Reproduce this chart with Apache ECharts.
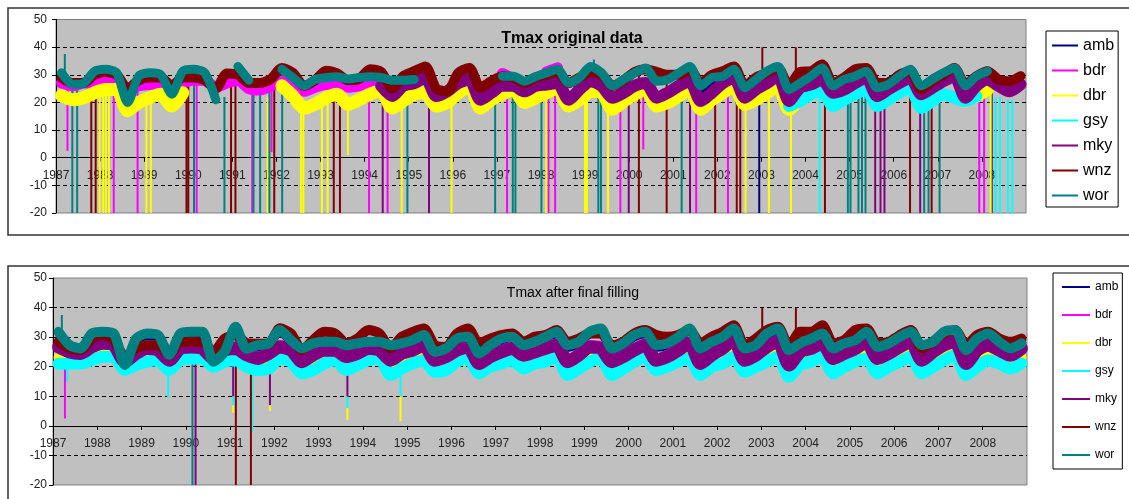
<!DOCTYPE html>
<html>
<head>
<meta charset="utf-8">
<title>Tmax</title>
<script src="https://cdn.jsdelivr.net/npm/echarts@6/dist/echarts.min.js"></script>
<style>
  html, body { margin: 0; padding: 0; background: #fff; }
  #chart { width: 1129px; height: 499px; }
</style>
</head>
<body>
<div id="chart"></div>
<script>
// quarterly values (Feb, May, Aug, Nov) 1987..2008
var firstYear = 1987
var lastYear = 2009
var stations = ['amb', 'bdr', 'dbr', 'gsy', 'mky', 'wnz', 'wor']
var colors = ['#000080', '#FF00FF', '#FFFF00', '#00FFFF', '#800080', '#800000', '#008080']
var yTicks = [-20, -10, 0, 10, 20, 30, 40, 50]

// ---- original data (upper panel) ----
var origAmb = [
  null, null, null, null, null, null, null, null, null, null, null, null,
  null, null, null, null, null, null, null, null, null, null, null, null,
  null, null, null, null, null, null, null, null, null, null, null, null,
  null, null, null, null, null, null, null, null, null, null, null, null,
  null, null, null, null, null, null, null, null, null, null, 24, 27.5,
  30.5, 32, 24, 26.5, 29, 32, 25.5, 27.5, 29, 31, 25, 26,
  29, 31.5, 25.5, 28, 30, 32, 25.5, 29, 31, null, null, null
]
var origBdr = [
  27, 26, 27, 27, 27.5, 27.5, 25, 26, 26.5, 27, 25, 27,
  28, 28, 25.5, 27, 28, 25, 24.5, 26, 27.5, 26.5, 24, 25.5,
  26.5, 26.5, 25.5, 26, 27, 26, null, null, null, null, null, null,
  null, null, null, null, 30.5, 28.5, null, null, 31, 32.5, null, null,
  null, null, null, null, null, null, null, null, null, null, null, null,
  null, null, null, null, null, null, null, null, null, null, null, null,
  null, null, null, null, null, null, null, null, null, null, null, null
]
var origDbr = [
  22.5, 21, 21.7, 23.5, 24.7, 24.7, 17, 20, 21.7, 23, 18.7, 23.5,
  null, null, null, null, null, null, null, null, 26, 22.3, 18, 19.3,
  21.7, 23, 19.3, 21, 23, 24, 18, 20.5, 23, 23.5, 18.7, 20,
  23.5, 26, 18, 21, 23, 24.7, 20, 21.7, 23.5, 25.3, 18.7, 21,
  24, 23.5, 17.5, 20.5, 23, 24.7, 18.7, 20, 22.3, 24.7, 17.5, 21,
  23.5, 26, 19.3, 21, 23.5, 26, 17.5, 21.7, 23.5, 25.3, null, null,
  null, null, null, null, null, null, null, null, null, null, 20.5, 22.3,
  24.7, null, null, null
]
var origGsy = [
  null, null, null, null, null, null, null, null, null, null, null, null,
  null, null, null, null, null, null, null, null, null, null, null, null,
  null, null, null, null, null, null, null, null, null, null, null, null,
  null, null, null, null, null, null, null, null, null, null, null, null,
  null, null, null, null, null, null, null, null, null, null, null, null,
  null, null, null, null, null, null, 18.7, 20.5, 23, 24, 18.7, 21,
  23, 24.7, 18.7, 21, 23.5, 25.3, 18, 20.5, 23, 21.7, 20.5, 22.3
]
var origMky = [
  null, null, null, null, null, null, null, null, null, null, null, null,
  null, null, null, null, null, null, null, null, null, null, null, null,
  null, null, null, null, null, 26, 22.3, 26, 27, 29, 22.3, 24,
  27, 28.3, 21, 23.5, 26, 26, 24, 26, 26.5, 27, 21, 24.7,
  27.7, 26, 21.7, 23.5, 26, 27, 21.7, 23.5, 26, 27.7, 20.5, 23.5,
  27, 29, 21.7, 24.7, 27, 29.5, 20.5, 25.3, 26.5, 28.3, 23.5, 24.7,
  27, 29, 22.3, 24.7, 27, 29, 23, 25.3, 27.7, 29.5, 21.7, 26,
  28.3, 26, 24, 26.5
]
var origWnz = [
  29, 27, 27, 30, 31, 30, 25, 28, 29, 29, 26, 29,
  29, 28, 25, 30.5, 30, 27, 27, 28.5, 32.5, 30.7, 26, 28,
  31.5, 30.5, 28, 28.5, 32, 31, 25, 29.5, 31.3, 33, 25, 24,
  30.7, 32.5, 25.3, 27.7, 29.5, 29, 27, 29, 30, 31, 27, 29,
  31, 30, 26, 28, 31, 32, 31, 30, 30, 32, 27, 30,
  31.3, 33, 26, 29, 30.7, 32.5, 26, 31, 31.3, 33.7, 27, 29,
  32, 32.5, 27, 27, 30, 31.3, 24.7, 27.7, 30, 32.5, 26.5, 29.5,
  31.3, 28.3, 27.7, 29.5
]
var origWor = [
  30.7, 26.5, 26.9, 31.3, 32, 30.7, 20, 29.5, 30.7, 30, 23, 31.3,
  32, 30.7, 21, null, 33, 28, null, null, 32, 29, 26, 28.3,
  29, 29.3, 28.5, 29, 29.3, 29, 28, 28, 28.3, null, null, null,
  null, null, null, null, 29.5, 29.5, 27.7, 29.3, 30.7, 32, 27, 29,
  33, 30.7, 26, 28.3, 30.7, 32.5, 27.7, 28.3, 30.7, 33, 26, 29,
  29.5, 32, 25.3, 28.3, 31.3, 33, 24.7, 27, 29.5, 32.5, 26, 28.3,
  29.5, 31.3, 25.3, 26.5, 29.5, 32, 26, 28.3, 30.7, 32.5, 26, 29.5,
  31.3, null, null, null
]

// single-day drop-outs and peaks: [year, from, to]
var origSpikesAmb = [[2002.95, 28, -20], [2008.22, 31, -20]]
var origSpikesBdr = [
  [1987.26, 26, 2.5], [1988.31, 27, -20], [1988.85, 26, -20], [1990.19, 28, -20],
  [1991.45, 25, -20], [1991.89, 26, 2], [1994.1, 27, -20], [1994.52, 25, -20],
  [1997.23, 28, -20], [1998.17, 31, -20], [1998.32, 30, -20], [1999.8, 27, -20],
  [2000.32, 28, 3], [2001.52, 26, -20], [2002.24, 28, -20], [2007.94, 27, -20],
  [2008.05, 27, -20]
]
var origSpikesDbr = [
  [1987.99, 24, -20], [1988.07, 24, -20], [1988.13, 24, -20], [1988.2, 24, -20],
  [1989.05, 22, -20], [1989.15, 22, -20], [1991.8, 22, -20], [1992.56, 18, -20],
  [1992.61, 18, -20], [1993.03, 22, -20], [1993.16, 22, -20], [1993.62, 20, 1],
  [1994.84, 20, -20], [1995.97, 23, -20], [1998.12, 25, -20], [1999.0, 23, -20],
  [1999.04, 23, -20], [1999.52, 19, -20], [2002.64, 20, -20], [2003.17, 25, -20],
  [2003.67, 20, -20], [2008.2, 24, -20]
]
var origSpikesGsy = [
  [2004.32, 22, -20], [2008.31, 22, -20], [2008.41, 22, -20], [2008.59, 21, -20],
  [2008.69, 21, -20]
]
var origSpikesMky = [
  [1994.41, 25, -20], [1995.46, 27, -20], [1999.99, 25, -20], [2001.38, 26, -20],
  [2005.58, 26, -20], [2005.7, 26, -20], [2005.79, 26, -20], [2006.6, 24, -20]
]
var origSpikesWnz = [
  [1987.8, 29, -20], [1987.9, 29, -20], [1989.96, 29, -20], [1990.0, 29, -20],
  [1990.97, 30, -20], [1991.07, 30, -20], [1991.95, 28, -20], [1993.3, 31, -20],
  [1993.44, 30, -20], [2000.22, 31, -20], [2000.85, 30, -20], [2001.95, 29, -20],
  [2002.44, 30, -20], [2002.52, 30, -20], [2003.02, 32, 40], [2003.78, 31, 40],
  [2004.44, 28, -20], [2006.37, 26, -20], [2006.86, 27, -20]
]
var origSpikesWor = [
  [1987.2, 30, 37.5], [1987.37, 27, -20], [1987.48, 27, -20], [1990.13, 30, -20],
  [1990.82, 22, -20], [1991.48, 26, -20], [1991.63, 26, -20], [1991.84, 26, -20],
  [1992.13, 30, -20], [1994.97, 28, -20], [1996.96, 29, -20], [1997.36, 28, -20],
  [1997.42, 28, -20], [1998.01, 30, -20], [1999.2, 33, 35.5], [1999.3, 30, -20],
  [1999.36, 30, -20], [2001.19, 31, -20], [2004.96, 29, -20], [2005.02, 29, -20],
  [2005.2, 30, -20], [2005.28, 30, -20], [2005.36, 30, -20], [2006.69, 27, -20],
  [2006.79, 27, -20], [2007.04, 30, -20]
]

// ---- after final filling (lower panel) ----
var fillAmb = [
  30.6, 26.1, 25, 30, 30.6, 30, 19.4, 28.3, 30, 29.5, 22.8, 30,
  30.6, 30.6, 20.5, 23.8, 32.3, 24.8, 26.1, 26.7, 31.2, 27.8, 25, 26.7,
  27.2, 27.2, 26.1, 26.7, 27.2, 27.2, 26.1, 26.7, 27.8, 29.5, 23.8, 25,
  28.3, 28.9, 23.3, 26.1, 28.3, 28.9, 26.1, 27.2, 28.9, 30.6, 26.1, 27.2,
  30.6, 31.7, 25, 26.7, 29.5, 30.6, 26.1, 26.7, 28.9, 31.7, 25, 27.2,
  28.9, 31.7, 25, 26.1, 30, 31.7, 24.4, 26.7, 28.3, 30, 25, 26.7,
  27.8, 30.6, 25.5, 26.7, 28.9, 30.6, 26.1, 27.2, 30.6, 31.2, 24.4, 28.3,
  30, 27.2, 25, 26.7
]
var fillBdr = [
  27.5, 26, 25.3, 27.5, 28.7, 28.1, 22.5, 25.3, 27, 26.4, 23, 27,
  27.5, 27, 23.6, 26.4, 27, 24.8, 23.6, 25.3, 27.5, 26.4, 22.5, 24.8,
  26.4, 26.4, 24.2, 25.3, 27, 26.4, 23, 25.3, 26.4, 28.1, 23, 24.2,
  26.4, 27.5, 21.9, 24.2, 25.8, 27, 24.7, 25.8, 27, 28.1, 22.5, 24.7,
  27.5, 27, 22.5, 24.2, 26.4, 28.1, 23, 24.2, 26.4, 28.7, 21.9, 24.7,
  27, 29.8, 23, 24.7, 27.5, 29.2, 21.4, 25.8, 27, 28.7, 23.6, 25.3,
  27, 29.2, 23.6, 25.3, 27.5, 29.2, 23, 25.8, 28.1, 29.2, 21.9, 26.4,
  28.1, 26.4, 24.7, 27
]
var fillDbr = [
  23, 23, 23, 24, 25.2, 25.4, 20.8, 22.5, 23.6, 24, 20.8, 24,
  24.6, 24.7, 21.8, 23.5, 24, 21.8, 20.8, 21.3, 24.6, 23.5, 19.6, 20.8,
  23, 24, 20.8, 22.4, 24, 24.6, 19, 21.3, 23, 24, 20.1, 20.8,
  23.5, 24.7, 19.6, 21.8, 23, 24, 21.3, 23, 23.5, 25.2, 19, 21.3,
  23.5, 24.6, 19, 21.3, 23.5, 25.2, 20.8, 21.8, 23.5, 24.6, 19, 21.8,
  23, 25.2, 20.1, 21.8, 23.5, 25.2, 18.5, 22.4, 23.5, 25.2, 19.6, 21.8,
  23.5, 24.6, 19.6, 21.8, 23.5, 25.2, 19.6, 21.8, 24, 25.7, 19, 21.8,
  24, 23, 21.3, 23
]
var fillGsy = [
  21, 21.1, 21.1, 22.2, 23.4, 23.4, 18.9, 20.6, 21.7, 22.2, 18.9, 22.2,
  22.8, 22.8, 20, 21.7, 22.2, 20, 18.9, 19.4, 22.8, 21.7, 17.8, 18.9,
  21.1, 22.2, 18.9, 20.6, 22.2, 22.8, 17.2, 19.4, 21.1, 22.2, 18.3, 18.9,
  21.7, 22.8, 17.8, 20, 21.1, 22.2, 19.4, 21.1, 21.7, 23.4, 17.2, 19.4,
  21.7, 22.8, 17.2, 19.4, 21.7, 23.4, 18.9, 20, 21.7, 22.8, 17.2, 20,
  21.1, 23.4, 18.3, 20, 21.7, 23.4, 16.6, 20.6, 21.7, 23.4, 17.8, 20,
  21.7, 22.8, 17.8, 20, 21.7, 23.4, 17.8, 20, 22.2, 23.9, 17.2, 20,
  22.2, 21.1, 19.4, 21.1
]
var fillMky = [
  26.7, 25, 24.5, 26.7, 27.9, 27.3, 21.7, 24.5, 26.2, 25.6, 22.2, 26.2,
  26.7, 26.2, 22.8, 25.6, 26.2, 24, 22.8, 24.5, 26.7, 25.6, 21.7, 24,
  25.6, 25.6, 23.4, 24.5, 26.2, 25.6, 22.2, 24.5, 25.6, 27.3, 22.2, 23.4,
  25.6, 26.7, 21.1, 23.4, 25, 26.2, 23.9, 25, 26.2, 27.3, 21.7, 23.9,
  26.7, 26.2, 21.7, 23.4, 25.6, 27.3, 22.2, 23.4, 25.6, 27.9, 21.1, 23.9,
  26.2, 29, 22.2, 23.9, 26.7, 28.4, 20.6, 25, 26.2, 27.9, 22.8, 24.5,
  26.2, 28.4, 22.8, 24.5, 26.7, 28.4, 22.2, 25, 27.3, 28.4, 21.1, 25.6,
  27.3, 25.6, 23.9, 26.2
]
var fillWnz = [
  28.4, 26.2, 25.6, 29.5, 30.7, 29, 23.4, 26.2, 27.3, 27.3, 24, 28.4,
  28.4, 28.4, 25, 29.5, 30.7, 28, 27.8, 27.8, 33, 31.2, 25.6, 29,
  31.8, 31.2, 27.9, 29.5, 32.4, 31.2, 26.2, 30.1, 31.8, 32.9, 27.3, 26.7,
  31.2, 32.9, 27.9, 29.5, 30.7, 31.2, 28.4, 30.1, 30.7, 32.4, 28.4, 29.5,
  31.2, 31.2, 27.3, 28.4, 31.2, 32.4, 30.7, 30.1, 30.7, 32.4, 27.9, 30.1,
  31.8, 34, 27.3, 29.5, 32.4, 33.5, 26.7, 31.8, 31.8, 34, 27.9, 29,
  32.4, 32.9, 27.9, 28.4, 30.7, 32.4, 26.2, 28.4, 31.2, 32.4, 27.3, 30.7,
  31.8, 29.5, 28.4, 29.5
]
var fillWor = [
  31.8, 27.3, 26.2, 31.2, 31.8, 31.2, 20.6, 29.5, 31.2, 30.7, 24, 31.2,
  31.8, 31.8, 21.7, 25, 33.5, 26, 27.3, 27.9, 32.4, 29, 26.2, 27.9,
  28.4, 28.4, 27.3, 27.9, 28.4, 28.4, 27.3, 27.9, 29, 30.7, 25, 26.2,
  29.5, 30.1, 24.5, 27.3, 29.5, 30.1, 27.3, 28.4, 30.1, 31.8, 27.3, 28.4,
  31.8, 32.9, 26.2, 27.9, 30.7, 31.8, 27.3, 27.9, 30.1, 32.9, 26.2, 28.4,
  30.1, 32.9, 26.2, 27.3, 31.2, 32.9, 25.6, 27.9, 29.5, 31.2, 26.2, 27.9,
  29, 31.8, 26.7, 27.9, 30.1, 31.8, 27.3, 28.4, 31.8, 32.4, 25.6, 29.5,
  31.2, 28.4, 26.2, 27.9
]

var fillSpikesAmb = []
var fillSpikesBdr = [[1987.27, 27, 2.5]]
var fillSpikesDbr = [[1991.07, 7, 4.5], [1991.9, 7, 5], [1993.65, 6, 2], [1994.85, 10, 1.5]]
var fillSpikesGsy = [
  [1987.32, 21, 15], [1989.6, 21, 9.5], [1991.07, 20, 7], [1991.5, 20, -2],
  [1993.65, 10, 6], [1994.85, 19, 10]
]
var fillSpikesMky = [[1990.22, 26, -20], [1991.07, 25, 10], [1991.9, 24, 7], [1993.65, 24, 10]]
var fillSpikesWnz = [[1991.13, 29, -20], [1991.47, 27.8, -20], [2003.02, 33, 40], [2003.78, 32, 40]]
var fillSpikesWor = [[1987.2, 31, 37.5], [1990.15, 30, -20]]

var origLines = [origAmb, origBdr, origDbr, origGsy, origMky, origWnz, origWor]
var origSpikes = [origSpikesAmb, origSpikesBdr, origSpikesDbr, origSpikesGsy, origSpikesMky, origSpikesWnz, origSpikesWor]
var fillLines = [fillAmb, fillBdr, fillDbr, fillGsy, fillMky, fillWnz, fillWor]
var fillSpikes = [fillSpikesAmb, fillSpikesBdr, fillSpikesDbr, fillSpikesGsy, fillSpikesMky, fillSpikesWnz, fillSpikesWor]

// band widths in px for each station (amb..wor)
var origWidths = [6, 11, 13, 12, 12, 10, 9]
var fillWidths = [6, 9, 10, 12, 13, 10, 10]

var font = 'Arial, "Liberation Sans", sans-serif'

function quarterTime(i) {
  return firstYear + (i + 0.5) / 4
}

function panelSeries(panel, lines, spikes, widths) {
  var out = []
  for (var s = 0; s < stations.length; s++) {
    var vals = lines[s]
    out.push({
      name: stations[s],
      type: 'line',
      xAxisIndex: panel,
      yAxisIndex: panel,
      data: vals.map(function (v, i) { return [quarterTime(i), v] }),
      showSymbol: false,
      smooth: 0.25,
      connectNulls: false,
      color: colors[s],
      lineStyle: { width: widths[s], color: colors[s], join: 'round', cap: 'round' },
      emphasis: { disabled: true },
      silent: true
    })
    out.push({
      name: stations[s],
      type: 'custom',
      xAxisIndex: panel,
      yAxisIndex: panel,
      data: spikes[s],
      color: colors[s],
      clip: true,
      silent: true,
      encode: { x: 0, y: [1, 2] },
      renderItem: (function (c) {
        return function (params, api) {
          var p1 = api.coord([api.value(0), api.value(1)])
          var p2 = api.coord([api.value(0), api.value(2)])
          return {
            type: 'line',
            shape: { x1: p1[0], y1: p1[1], x2: p2[0], y2: p2[1] },
            style: { stroke: c, lineWidth: 2 }
          }
        }
      })(colors[s])
    })
  }
  return out
}

// the year axis sits on the zero line: shift it up from the grid bottom
function xAxisFor(panel, zeroOffset) {
  return {
    type: 'value',
    gridIndex: panel,
    position: 'bottom',
    offset: -zeroOffset,
    min: firstYear,
    max: lastYear,
    interval: 1,
    axisLine: { onZero: false, lineStyle: { color: '#000', width: 1 } },
    axisTick: { show: true, length: 4, lineStyle: { color: '#000' } },
    axisLabel: {
      color: '#222', fontSize: 12, fontFamily: font, margin: 12,
      showMaxLabel: false,
      formatter: function (v) { return String(v) }
    },
    splitLine: { show: false }
  }
}

function yAxisFor(panel, margin) {
  return {
    type: 'value',
    gridIndex: panel,
    min: yTicks[0],
    max: yTicks[yTicks.length - 1],
    interval: 10,
    axisLine: { show: true, lineStyle: { color: '#000', width: 1 } },
    axisTick: { show: true, length: 4, lineStyle: { color: '#000' } },
    axisLabel: { color: '#222', fontSize: 12, fontFamily: font, margin: margin },
    splitLine: {
      show: true, showMinLine: false, showMaxLine: false,
      lineStyle: { color: '#000', type: [4, 3], width: 1 }
    }
  }
}

function legendFor(box, fontSize, lineH, gap, iconW, pad) {
  return {
    orient: 'vertical',
    left: box[0],
    top: box[1],
    width: box[2],
    data: stations,
    icon: 'rect',
    itemWidth: iconW,
    itemHeight: 2,
    itemGap: gap,
    padding: pad,
    borderColor: '#000',
    borderWidth: 1,
    backgroundColor: '#fff',
    selectedMode: false,
    textStyle: { fontSize: fontSize, fontFamily: font, color: '#000', lineHeight: lineH }
  }
}

// grid heights: upper 193.5 px, lower 207 px; zero sits 20/70 up from the bottom
var upperZero = 193.5 * 20 / 70
var lowerZero = 207 * 20 / 70

var chart = echarts.init(document.getElementById('chart'))
var option = {
  animation: false,
  backgroundColor: '#fff',
  title: [
    {
      text: 'Tmax original data', left: 572, top: 31, padding: 0, textAlign: 'center',
      textStyle: { fontSize: 16, fontWeight: 'bold', fontFamily: font, color: '#000' }
    },
    {
      text: 'Tmax after final filling', left: 573, top: 286, padding: 0, textAlign: 'center',
      textStyle: { fontSize: 14, fontWeight: 'normal', fontFamily: font, color: '#000' }
    }
  ],
  legend: [
    legendFor([1046, 31, 72], 16, 17, 8, 26, [6, 4, 3, 6]),
    legendFor([1053, 273, 71], 12, 14, 14, 28, [7, 4, 7, 9])
  ],
  grid: [
    {
      left: 56, right: 103, top: 19.5, bottom: 286, outerBoundsMode: 'none',
      show: true, backgroundColor: '#C0C0C0', borderColor: '#808080', borderWidth: 1
    },
    {
      left: 53, right: 102, top: 278, bottom: 14, outerBoundsMode: 'none',
      show: true, backgroundColor: '#C0C0C0', borderColor: '#808080', borderWidth: 1
    }
  ],
  xAxis: [xAxisFor(0, upperZero), xAxisFor(1, lowerZero)],
  yAxis: [yAxisFor(0, 9), yAxisFor(1, 6)],
  graphic: [
    {
      type: 'rect', silent: true, z: -1,
      shape: { x: 8, y: 8, width: 1125, height: 227 },
      style: { fill: 'none', stroke: '#333', lineWidth: 1.5 }
    },
    {
      type: 'rect', silent: true, z: -1,
      shape: { x: 8, y: 266, width: 1125, height: 260 },
      style: { fill: 'none', stroke: '#333', lineWidth: 1.5 }
    }
  ],
  series: panelSeries(0, origLines, origSpikes, origWidths)
    .concat(panelSeries(1, fillLines, fillSpikes, fillWidths))
}
chart.setOption(option)
</script>
</body>
</html>
